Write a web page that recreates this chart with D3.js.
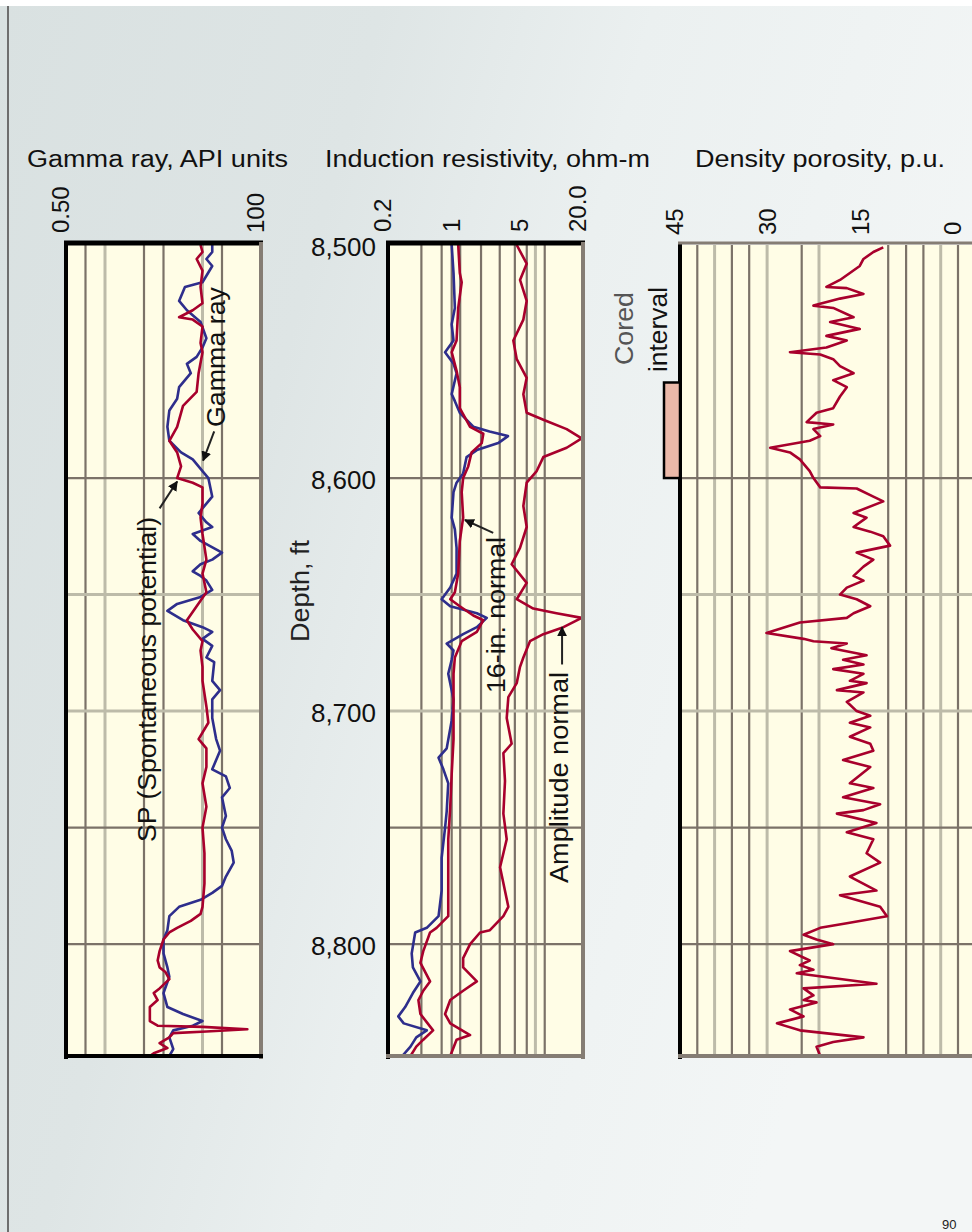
<!DOCTYPE html>
<html lang="en">
    <head>
        <meta charset="utf-8">
        <style>
            body { margin: 0; background: #fff; }
            svg { display: block; font-family: "Liberation Sans", Arial, sans-serif; }
            .curve { fill: none; stroke-width: 2.6; stroke-linejoin: round; }
            .grid-dark { stroke: #7b7268; stroke-width: 2.2; }
            .grid-light { stroke: #bdbba9; stroke-width: 3; }
        </style>
        <script src="https://d3js.org/d3.v7.min.js"></script>
    </head>
    <body>
        <svg width="972" height="1232"></svg>
        <script>

            // ---- data (depth in ft, value in track units) ----
            var depthTicks = [8500, 8600, 8700, 8800];
            var depthGridDark = [8600, 8750, 8800];
            var depthGridLight = [8650, 8700];
            var coredInterval = [8559, 8600];

            var gammaTicks = [0, 100];
            var gammaTickLabels = ["0.50", "100"];
            var gammaGridDark = [10, 40, 50, 80];
            var gammaGridLight = [20, 70];

            var resTicks = [0.2, 1, 5, 20];
            var resTickLabels = ["0.2", "1", "5", "20.0"];
            var resGridDark = [0.44, 0.71, 0.9, 1.1, 1.8, 2.8, 4, 5.3, 8.1];
            var resGridLight = [6.5];

            var porTicks = [45, 30, 15, 0];
            var porTickLabels = ["45", "30", "15", "0"];
            var porGridDark = [42.2, 36.6, 33.8, 25.3, 11.3, 8.4, 5.6, 0];
            var porGridLight = [39.4, 30.9, 22.5, 2.8];

            // gamma ray, API units
            var gammaRay = [[8500,75],[8503,75],[8506,72],[8509,75],[8516,70],[8518,61],[8524,58],[8528,62],
                [8533,69],[8540,72],[8544,70],[8548,67],[8551,62],[8555,64],[8561,58],[8566,57],[8571,53],
                [8578,52],[8584,53],[8589,59],[8592,65],[8597,70],[8600,73],[8608,75],[8611,72],[8615,68],
                [8619,72],[8621,75],[8624,65],[8627,69],[8632,80],[8635,75],[8637,69],[8640,65],[8642,69],
                [8644,72],[8648,75],[8651,69],[8654,57],[8657,52],[8661,60],[8664,70],[8666,75],[8669,70],
                [8672,75],[8677,72],[8679,76],[8687,75],[8691,79],[8695,75],[8703,75],[8712,77],[8717,79],
                [8725,75],[8728,82],[8733,84],[8737,80],[8745,82],[8750,80],[8755,82],[8760,85],[8765,86],
                [8771,82],[8775,80],[8778,75],[8781,69],[8784,58],[8788,53],[8794,52],[8798,50],[8804,50],
                [8810,52],[8814,53],[8821,50],[8827,52],[8830,60],[8833,70],[8835,65],[8837,55],[8840,53],
                [8845,55],[8848,53]];

            // SP, drawn on the same track
            var spontaneous = [[8500,69],[8503,70],[8506,67],[8511,70],[8518,69],[8525,70],[8528,65],[8531,58],
                [8532,65],[8535,70],[8542,69],[8546,70],[8555,68],[8563,67],[8569,60],[8578,57],[8584,53],
                [8589,57],[8595,59],[8600,57],[8602,65],[8604,70],[8611,70],[8617,69],[8624,70],[8635,72],
                [8641,70],[8649,72],[8655,67],[8661,62],[8665,65],[8670,70],[8674,69],[8681,70],[8687,70],
                [8698,72],[8705,73],[8712,68],[8716,72],[8724,72],[8731,70],[8741,72],[8750,70],[8761,71],
                [8774,71],[8784,70],[8787,69],[8790,64],[8793,57],[8795,53],[8798,50],[8803,48],[8807,47],
                [8810,48],[8812,51],[8815,53],[8819,48],[8821,45],[8824,47],[8827,43],[8833,43],[8835,47],
                [8835.5,70],[8836.5,93],[8837.5,72],[8838.2,55],[8840,53],[8842.5,48],[8844.6,52],
                [8846.8,45],[8848,43]];

            // induction resistivity, ohm-m
            var induction = [[8500,0.9],[8512,0.94],[8527,0.97],[8534,0.9],[8541,0.94],[8546,0.77],[8551,0.94],
                [8555,1.01],[8564,0.9],[8567,0.97],[8572,1.09],[8578,1.5],[8580,2.2],[8582,3.4],[8585,2.7],
                [8588,1.63],[8591,1.28],[8598,1.18],[8602,1.01],[8606,0.94],[8617,0.9],[8622,0.97],[8630,1.01],
                [8641,1.01],[8647,0.87],[8652,0.71],[8655,0.87],[8658,1.63],[8660,2.06],[8664,1.63],[8667,1.18],
                [8671,0.8],[8674,0.94],[8678,0.9],[8684,0.83],[8695,0.94],[8704,0.9],[8716,0.8],[8720,0.66],
                [8725,0.74],[8731,0.83],[8743,0.8],[8750,0.77],[8763,0.71],[8777,0.71],[8788,0.66],[8793,0.5],
                [8795,0.38],[8804,0.35],[8810,0.36],[8816,0.43],[8821,0.36],[8827,0.3],[8831,0.255],[8834,0.29],
                [8837,0.5],[8840,0.39],[8844,0.34],[8848,0.28]];

            // 16-in. normal
            var normal16 = [[8500,1.05],[8512,1.09],[8516,1.14],[8527,1.05],[8541,1.01],[8546,0.9],[8554,1.01],
                [8561,1.09],[8570,1.09],[8578,1.39],[8581,1.9],[8585,1.83],[8589,1.44],[8595,1.33],[8600,1.18],
                [8606,1.14],[8617,1.18],[8627,1.09],[8641,1.05],[8649,0.97],[8652,0.87],[8655,1.09],[8659,1.5],
                [8661,1.9],[8666,1.63],[8670,1.14],[8677,0.97],[8684,0.94],[8698,0.94],[8712,0.94],[8727,0.9],
                [8741,0.87],[8755,0.83],[8770,0.83],[8788,0.83],[8793,0.63],[8795,0.54],[8803,0.46],[8808,0.43],
                [8816,0.54],[8820,0.46],[8824,0.41],[8830,0.43],[8837,0.58],[8841,0.46],[8844,0.39],[8848,0.34]];

            // amplitude normal
            var ampNormal = [[8500,4.18],[8508,5.29],[8515,4.52],[8524,5.29],[8532,4.89],[8541,3.86],[8549,4.18],
                [8557,5.29],[8564,4.89],[8572,5.29],[8575,7.84],[8579,13.6],[8583,19.4],[8587,13.6],[8591,7.84],
                [8597,6.7],[8602,5.29],[8612,4.89],[8621,5.29],[8630,4.52],[8637,3.71],[8645,5.29],[8652,4.18],
                [8656,6.18],[8658,10.7],[8660,19.4],[8664,12.6],[8667,7.84],[8670,5.72],[8677,4.89],[8681,4.52],
                [8688,4.18],[8694,3.43],[8703,3.3],[8714,3.71],[8718,3.05],[8730,3.17],[8744,3.05],[8755,3.3],
                [8767,2.82],[8784,3.43],[8788,3.05],[8794,2.22],[8795,1.76],[8800,1.39],[8806,1.18],[8810,1.18],
                [8816,1.63],[8820,1.18],[8824,0.87],[8830,0.77],[8834,0.87],[8839,1.39],[8841,1.01],[8848,0.87]];

            // density porosity, p.u.
            var porosity = [[8501,12.1],[8503,13.7],[8506,15.3],[8509,15.9],[8512,17.5],[8515,19.1],[8518,21.3],
                [8518.5,18],[8521,15.3],[8523,19.1],[8526,23.4],[8527,20.2],[8531,16.9],[8533,20.7],[8536,15.9],
                [8539,21.3],[8541,18],[8544,21.3],[8546,27.2],[8547,22.3],[8549,20.2],[8552,19.1],[8555,16.9],
                [8558,20.2],[8561,18],[8565,19.1],[8570,20.2],[8572,22.9],[8576,24.5],[8577,20.2],[8579,23.4],
                [8582,22.3],[8584,24],[8587,30.4],[8589,27.2],[8592,25.6],[8597,24],[8600,23.4],[8604,22.3],
                [8604.5,16.4],[8608,13.7],[8610,12.1],[8615,16.9],[8617,14.8],[8621,16.9],[8623,14.2],[8625,12.1],
                [8629,11],[8632,16.4],[8635,13.7],[8638,15.3],[8642,16.9],[8644,15.3],[8647,18],[8650,19.1],
                [8652,16.4],[8655,14.2],[8658,16.9],[8660,18],[8662,25.6],[8666.5,31],[8669,25],[8670,23.4],
                [8671,18],[8673,20.5],[8676,14.8],[8678,18.6],[8680,15.3],[8682,20.2],[8684,15.3],[8687,17.5],
                [8688,14.8],[8691,19.6],[8692,15.3],[8696,18],[8700,16.4],[8702,14.2],[8705,17.5],[8707,14.2],
                [8711,17.5],[8714,14.2],[8717,13.7],[8721,18.6],[8724,14.2],[8731,17.5],[8733,13.7],[8737,18.6],
                [8740,12.6],[8742.5,15.3],[8744,19.6],[8748,13.2],[8752,18],[8755,13.7],[8761,14.8],[8765,12.6],
                [8771,17.5],[8777,13.2],[8779,19.1],[8784,12.6],[8788,11.5],[8791,18],[8793,22.3],[8796,25],
                [8798,22.9],[8800,20.2],[8803,27.2],[8807,24],[8809,25.6],[8811,23.4],[8812.5,26.1],[8817,13.2],
                [8819,25],[8822,23.4],[8824,25],[8825,22.9],[8828,27.2],[8831,25],[8834,29.3],[8837,25.6],
                [8840,15.3],[8842,20.2],[8844,22.9],[8848,22.3]];

            // ---- layout ----
            var svg = d3.select("svg");
            var width = +svg.attr("width");
            var height = +svg.attr("height");

            var y = d3.scaleLinear().domain([8500, 8848]).range([245, 1056]);

            var gammaX = d3.scaleLinear().domain([0, 100]).range([66, 261]);
            var resX = d3.scaleLog().domain([0.2, 20]).range([388, 583]);
            var porX = d3.scaleLinear().domain([45, 0]).range([680, 958]);

            var red = "#a8002c";
            var blue = "#2e2e8c";

            // background
            var defs = svg.append("defs");
            var grad = defs.append("linearGradient")
                .attr("id", "bg")
                .attr("x1", 0).attr("y1", 0).attr("x2", 1).attr("y2", 0.35);
            grad.append("stop").attr("offset", "0").attr("stop-color", "#d9e1e1");
            grad.append("stop").attr("offset", "0.35").attr("stop-color", "#dee5e5");
            grad.append("stop").attr("offset", "0.6").attr("stop-color", "#ebf0f0");
            grad.append("stop").attr("offset", "1").attr("stop-color", "#f3f6f6");

            defs.append("marker")
                .attr("id", "arrow")
                .attr("viewBox", "0 0 10 10")
                .attr("refX", 9).attr("refY", 5)
                .attr("markerWidth", 5).attr("markerHeight", 5)
                .attr("orient", "auto")
              .append("path")
                .attr("d", "M0,0L10,5L0,10z")
                .attr("fill", "#111");

            svg.append("rect")
                .attr("x", 0).attr("y", 6)
                .attr("width", width).attr("height", height - 6)
                .attr("fill", "url(#bg)");
            svg.append("line")
                .attr("x1", 8).attr("x2", 8).attr("y1", 6).attr("y2", height)
                .attr("stroke", "#6e6e6e").attr("stroke-width", 2);

            // one track: background, grid, curves, frame
            function drawTrack(id, xScale, x0, x1, gridDark, gridLight, curves, frame) {
                var g = svg.append("g").attr("class", "track");
                var top = y.range()[0], bottom = y.range()[1];

                defs.append("clipPath").attr("id", "clip-" + id)
                  .append("rect")
                    .attr("x", x0).attr("y", top)
                    .attr("width", x1 - x0).attr("height", bottom - top);

                g.append("rect")
                    .attr("x", x0).attr("y", top)
                    .attr("width", x1 - x0).attr("height", bottom - top)
                    .attr("fill", "#fffde6");

                g.selectAll(".vl").data(gridLight).enter().append("line")
                    .attr("class", "grid-light")
                    .attr("x1", xScale).attr("x2", xScale)
                    .attr("y1", top).attr("y2", bottom);
                g.selectAll(".vd").data(gridDark).enter().append("line")
                    .attr("class", "grid-dark")
                    .attr("x1", xScale).attr("x2", xScale)
                    .attr("y1", top).attr("y2", bottom);
                g.selectAll(".hl").data(depthGridLight).enter().append("line")
                    .attr("class", "grid-light")
                    .attr("x1", x0).attr("x2", x1)
                    .attr("y1", y).attr("y2", y);
                g.selectAll(".hd").data(depthGridDark).enter().append("line")
                    .attr("class", "grid-dark")
                    .attr("x1", x0).attr("x2", x1)
                    .attr("y1", y).attr("y2", y);

                var line = d3.line()
                    .x(function(d) { return xScale(d[1]); })
                    .y(function(d) { return y(d[0]); });

                var cg = g.append("g").attr("clip-path", "url(#clip-" + id + ")");
                curves.forEach(function(c) {
                    cg.append("path")
                        .datum(c.data)
                        .attr("class", "curve")
                        .attr("stroke", c.color)
                        .attr("stroke-width", c.w || 2.6)
                        .attr("d", line);
                });

                // frame: left, top, right, bottom
                g.append("line").attr("x1", x0).attr("x2", x0).attr("y1", top - 3).attr("y2", bottom + 3)
                    .attr("stroke", "#000").attr("stroke-width", 4);
                g.append("line").attr("x1", x0 - 2).attr("x2", x1 + 2).attr("y1", top - 2).attr("y2", top - 2)
                    .attr("stroke", frame.top).attr("stroke-width", frame.topW);
                if (frame.right) {
                    g.append("line").attr("x1", x1).attr("x2", x1).attr("y1", top - 3).attr("y2", bottom + 3)
                        .attr("stroke", frame.right).attr("stroke-width", 4);
                }
                g.append("line").attr("x1", x0 - 2).attr("x2", x1 + 2).attr("y1", bottom).attr("y2", bottom)
                    .attr("stroke", frame.bottom).attr("stroke-width", 4);
            }

            drawTrack("gr", gammaX, 66, 261, gammaGridDark, gammaGridLight,
                [{data: gammaRay, color: blue}, {data: spontaneous, color: red}],
                {top: "#000", topW: 5, right: "#857d74", bottom: "#000"});

            drawTrack("res", resX, 388, 583, resGridDark, resGridLight,
                [{data: induction, color: blue}, {data: normal16, color: red}, {data: ampNormal, color: red}],
                {top: "#000", topW: 5, right: "#857d74", bottom: "#857d74"});

            drawTrack("por", porX, 680, 990, porGridDark, porGridLight,
                [{data: porosity, color: red, w: 3}],
                {top: "#857d74", topW: 3, right: null, bottom: "#857d74"});

            // track titles
            var titles = [
                {text: "Gamma ray, API units", x: 27, len: 261},
                {text: "Induction resistivity, ohm-m", x: 325, len: 325},
                {text: "Density porosity, p.u.", x: 695, len: 250}
            ];
            svg.selectAll(".title").data(titles).enter().append("text")
                .attr("class", "title")
                .attr("x", function(d) { return d.x; })
                .attr("y", 167)
                .attr("textLength", function(d) { return d.len; })
                .attr("lengthAdjust", "spacingAndGlyphs")
                .style("font-size", "23px")
                .attr("fill", "#111")
                .text(function(d) { return d.text; });

            // rotated scale labels above each track
            function scaleLabels(xScale, ticks, labels, bottomY) {
                svg.selectAll(null).data(ticks).enter().append("text")
                    .attr("transform", function(d) { return "translate(" + (xScale(d) - 5) + "," + bottomY + ") rotate(-90)"; })
                    .attr("dy", "0.35em")
                    .style("font-size", "24px")
                    .attr("fill", "#111")
                    .text(function(d, i) { return labels[i]; });
            }
            scaleLabels(gammaX, gammaTicks, gammaTickLabels, 233);
            scaleLabels(resX, resTicks, resTickLabels, 232);
            scaleLabels(porX, porTicks, porTickLabels, 235);

            // depth labels
            svg.selectAll(".depth").data(depthTicks).enter().append("text")
                .attr("class", "depth")
                .attr("x", 376)
                .attr("y", function(d) { return y(d) + 2; })
                .attr("dy", "0.35em")
                .attr("text-anchor", "end")
                .style("font-size", "26px")
                .attr("fill", "#111")
                .text(d3.format(","));

            // rotated texts
            var notes = [
                {text: "Depth, ft", x: 309, y: 642, len: 102, color: "#222"},
                {text: "Gamma ray", x: 225, y: 427, len: 140, color: "#111"},
                {text: "SP (Spontaneous potential)", x: 156, y: 842, len: 325, color: "#111"},
                {text: "16-in. normal", x: 505, y: 693, len: 156, color: "#111"},
                {text: "Amplitude normal", x: 568, y: 883, len: 211, color: "#111"},
                {text: "Cored", x: 633, y: 365, len: 73, color: "#555"},
                {text: "interval", x: 667, y: 372, len: 85, color: "#111"}
            ];
            svg.selectAll(".note").data(notes).enter().append("text")
                .attr("class", "note")
                .attr("transform", function(d) { return "translate(" + d.x + "," + d.y + ") rotate(-90)"; })
                .attr("textLength", function(d) { return d.len; })
                .attr("lengthAdjust", "spacingAndGlyphs")
                .style("font-size", "25px")
                .attr("fill", function(d) { return d.color; })
                .text(function(d) { return d.text; });

            // leader arrows, in track units
            var arrows = [
                {x: gammaX, from: [8580, 76], to: [8592.5, 70.3]},
                {x: gammaX, from: [8613, 48], to: [8601.5, 57]},
                {x: resX, from: [8623.5, 2.4], to: [8618, 1.23]},
                {x: resX, from: [8680, 12.2], to: [8664, 12.2]}
            ];
            svg.selectAll(".arrow").data(arrows).enter().append("line")
                .attr("class", "arrow")
                .attr("x1", function(d) { return d.x(d.from[1]); })
                .attr("y1", function(d) { return y(d.from[0]); })
                .attr("x2", function(d) { return d.x(d.to[1]); })
                .attr("y2", function(d) { return y(d.to[0]); })
                .attr("stroke", "#222")
                .attr("stroke-width", 2)
                .attr("marker-end", "url(#arrow)");

            // cored interval bar, left of the porosity track
            svg.append("rect")
                .attr("x", 664)
                .attr("y", y(coredInterval[0]))
                .attr("width", 16)
                .attr("height", y(coredInterval[1]) - y(coredInterval[0]))
                .attr("fill", "#ebb9a9")
                .attr("stroke", "#000")
                .attr("stroke-width", 2.5);

            // figure number in the bottom-right corner
            svg.append("text")
                .attr("x", 942)
                .attr("y", 1229)
                .style("font-size", "13px")
                .attr("fill", "#222")
                .text("90");
        </script>
    </body>
</html>
